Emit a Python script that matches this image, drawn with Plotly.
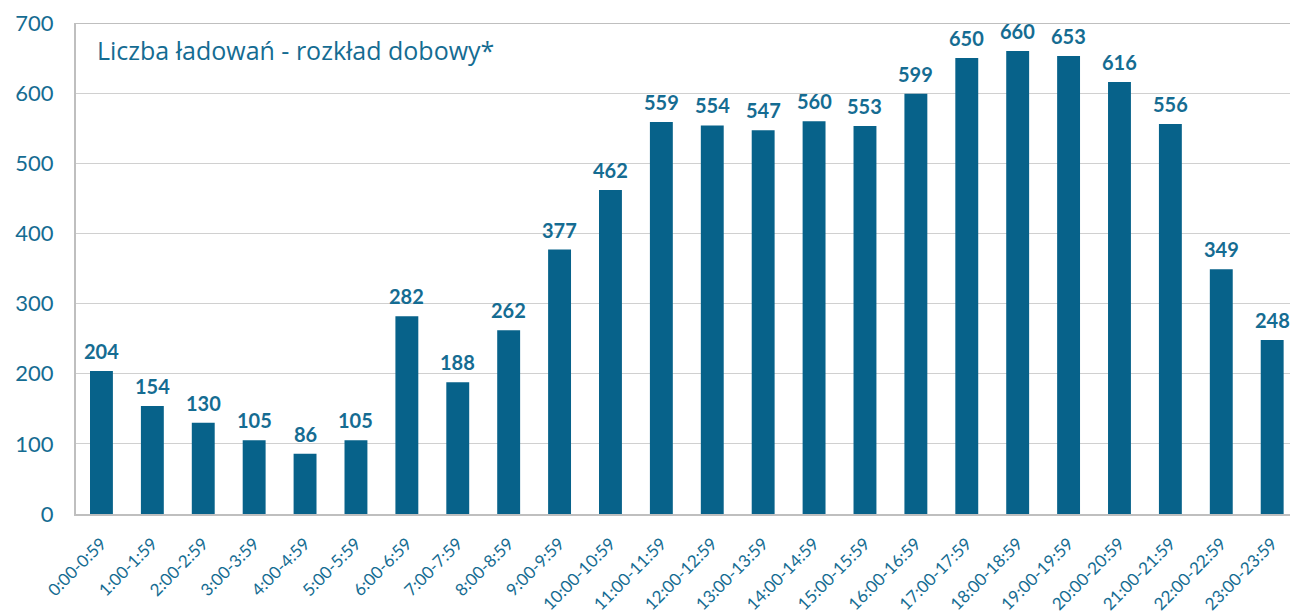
import plotly.graph_objects as go

# Hourly distribution of charging sessions
hours = [
    "0:00-0:59", "1:00-1:59", "2:00-2:59", "3:00-3:59", "4:00-4:59", "5:00-5:59",
    "6:00-6:59", "7:00-7:59", "8:00-8:59", "9:00-9:59", "10:00-10:59", "11:00-11:59",
    "12:00-12:59", "13:00-13:59", "14:00-14:59", "15:00-15:59", "16:00-16:59",
    "17:00-17:59", "18:00-18:59", "19:00-19:59", "20:00-20:59", "21:00-21:59",
    "22:00-22:59", "23:00-23:59",
]
sessions = [204, 154, 130, 105, 86, 105, 282, 188, 262, 377, 462, 559,
            554, 547, 560, 553, 599, 650, 660, 653, 616, 556, 349, 248]
y_ticks = [0, 100, 200, 300, 400, 500, 600, 700]
title_text = "Liczba ładowań - rozkład dobowy*"

BAR = "#07628a"
TXT = "#156c92"
FONT = "Lato, 'Open Sans', sans-serif"

xpos = list(range(len(hours)))

fig = go.Figure()
fig.add_trace(go.Bar(
    x=xpos,
    y=sessions,
    width=0.45,
    marker=dict(color=BAR, line=dict(width=0)),
    hoverinfo="skip",
))

# value labels above each bar
value_labels = [
    dict(x=x, y=v, text=str(v), xref="x", yref="y",
         xanchor="center", yanchor="bottom", yshift=6, showarrow=False,
         font=dict(family=FONT, size=20, color=TXT, weight="bold"))
    for x, v in zip(xpos, sessions)
]

fig.update_layout(
    width=1290, height=616,
    margin=dict(l=76, r=0, t=23, b=102),
    paper_bgcolor="white", plot_bgcolor="white",
    showlegend=False,
    font=dict(family=FONT, color=TXT),
    xaxis=dict(
        range=[-0.5, 23.35],
        automargin=False,
        tickmode="array",
        tickvals=xpos,
        ticktext=hours,
        tickangle=-45,
        tickfont=dict(size=17, color=TXT),
        showgrid=False,
        showline=True, linecolor="#bfbfbf", linewidth=2,
        ticks="outside", ticklen=11, tickcolor="rgba(0,0,0,0)",
        zeroline=False,
    ),
    yaxis=dict(
        range=[0, 700],
        automargin=False,
        tickmode="array",
        tickvals=y_ticks,
        tickfont=dict(size=22, color=TXT),
        showgrid=True, gridcolor="#d0d0d0", gridwidth=1,
        showline=True, linecolor="#bfbfbf", linewidth=2,
        ticks="outside", ticklen=16, tickcolor="rgba(0,0,0,0)",
        zeroline=False,
    ),
    annotations=value_labels + [dict(
        text=title_text, xref="paper", yref="paper",
        x=0.016, y=0.945, xanchor="left", yanchor="middle",
        showarrow=False,
        font=dict(family="'Open Sans', sans-serif", size=25, color=TXT),
    )],
    shapes=[dict(
        type="line", xref="paper", yref="y", x0=0, x1=1, y0=700, y1=700,
        line=dict(color="#bfbfbf", width=2),
    )],
)

fig.write_html("out.html")
